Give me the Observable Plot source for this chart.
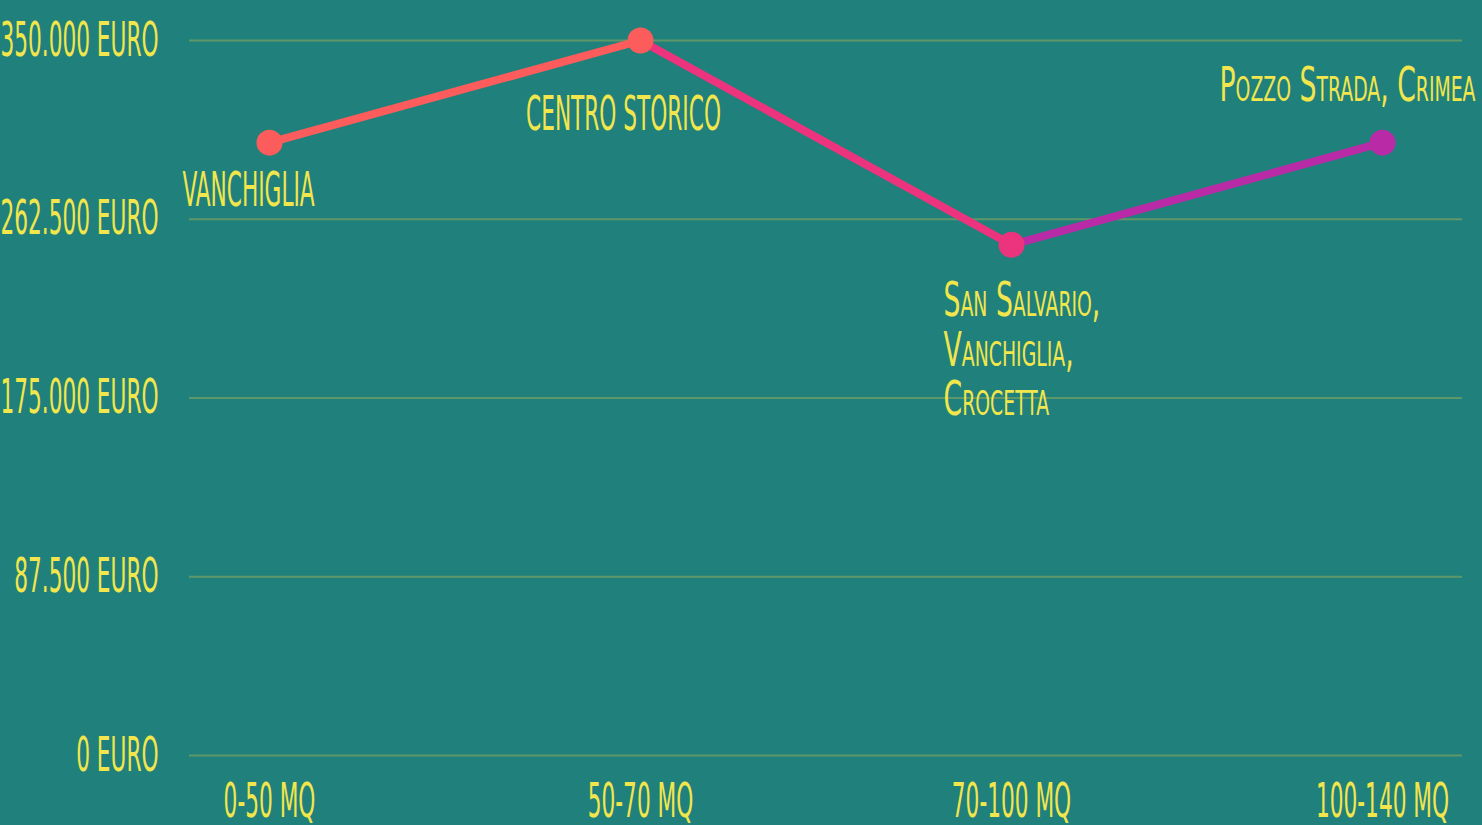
<!DOCTYPE html>
<html>
<head>
<meta charset="utf-8">
<script src="https://cdn.jsdelivr.net/npm/d3@7"></script>
<script src="https://cdn.jsdelivr.net/npm/@observablehq/plot@0.6"></script>
<style>
  html, body { margin: 0; padding: 0; background: #20807b; overflow: hidden; }
  #chart svg { display: block; overflow: visible; }
</style>
</head>
<body>
<div id="chart"></div>
<script>
const categories = ["0-50 MQ", "50-70 MQ", "70-100 MQ", "100-140 MQ"];
const prices = [300000, 350000, 250000, 300000];
const areas = ["VANCHIGLIA", "CENTRO STORICO", "San Salvario,\nVanchiglia,\nCrocetta", "Pozzo Strada, Crimea"];
const yTicks = [0, 87500, 175000, 262500, 350000];
const yTickLabels = ["0 EURO", "87.500 EURO", "175.000 EURO", "262.500 EURO", "350.000 EURO"];
const pointColors = ["#fd5c5c", "#fd5c5c", "#ec337d", "#b92ba6"];
const segmentColors = ["#fd5c5c", "#ec337d", "#b92ba6"];

const BG = "#20807b";
const GRID = "#5f9868";
const TEXT = "#f2e64c";
const FONT = "'Liberation Sans Narrow', 'DejaVu Sans Condensed', 'Roboto', sans-serif";
const FS = 28;
const SX = 0.86;
const SX_SC = 1.06;
const SY = 1.7;

const data = categories.map((c, i) => ({cat: c, price: prices[i], label: areas[i], color: pointColors[i]}));
const segments = d3.pairs(data).map(([a, b], i) => ({x1: a.cat, y1: a.price, x2: b.cat, y2: b.price, color: segmentColors[i]}));

const chart = Plot.plot({
  width: 1482,
  height: 825,
  marginLeft: 189,
  marginRight: 20,
  marginTop: 40,
  marginBottom: 70,
  style: {background: BG, color: TEXT, fontFamily: FONT, fontSize: FS + "px"},
  x: {type: "point", domain: categories, padding: 0.213, label: null},
  y: {domain: [0, 350000], label: null},
  color: {type: "identity"},
  marks: [
    Plot.ruleY(yTicks, {stroke: GRID, strokeWidth: 2}),
    Plot.axisY({ticks: yTicks, tickFormat: d => yTickLabels[yTicks.indexOf(d)], tickSize: 0, tickPadding: 31, fontSize: FS, label: null}),
    Plot.axisX({tickSize: 0, tickPadding: 28, fontSize: FS, label: null}),
    Plot.link(segments, {x1: "x1", y1: "y1", x2: "x2", y2: "y2", stroke: "color", strokeWidth: 8}),
    Plot.dot(data, {x: "cat", y: "price", r: 13, fill: "color"}),
    Plot.text([data[0]], {x: "cat", y: "price", text: "label", textAnchor: "start", dx: -87, dy: 48, fontSize: FS, fill: TEXT}),
    Plot.text([data[1]], {x: "cat", y: "price", text: "label", textAnchor: "middle", dx: -17, dy: 74, fontSize: FS, fill: TEXT}),
    Plot.text([data[2]], {x: "cat", y: "price", text: "label", textAnchor: "start", dx: -68, dy: 105, fontSize: FS, lineHeight: 1.04, fontVariant: "small-caps", fill: TEXT, className: "sc"}),
    Plot.text([data[3]], {x: "cat", y: "price", text: "label", textAnchor: "middle", dx: -35, dy: -57, fontSize: FS, fontVariant: "small-caps", fill: TEXT, className: "sc"})
  ]
});

d3.select(chart).selectAll("text").each(function() {
  const t = this.getAttribute("transform") || "";
  const sc = this.closest(".sc") ? SX_SC : SX;
  this.setAttribute("transform", (t + " scale(" + sc + "," + SY + ")").trim());
});

document.getElementById("chart").appendChild(chart);
</script>
</body>
</html>
